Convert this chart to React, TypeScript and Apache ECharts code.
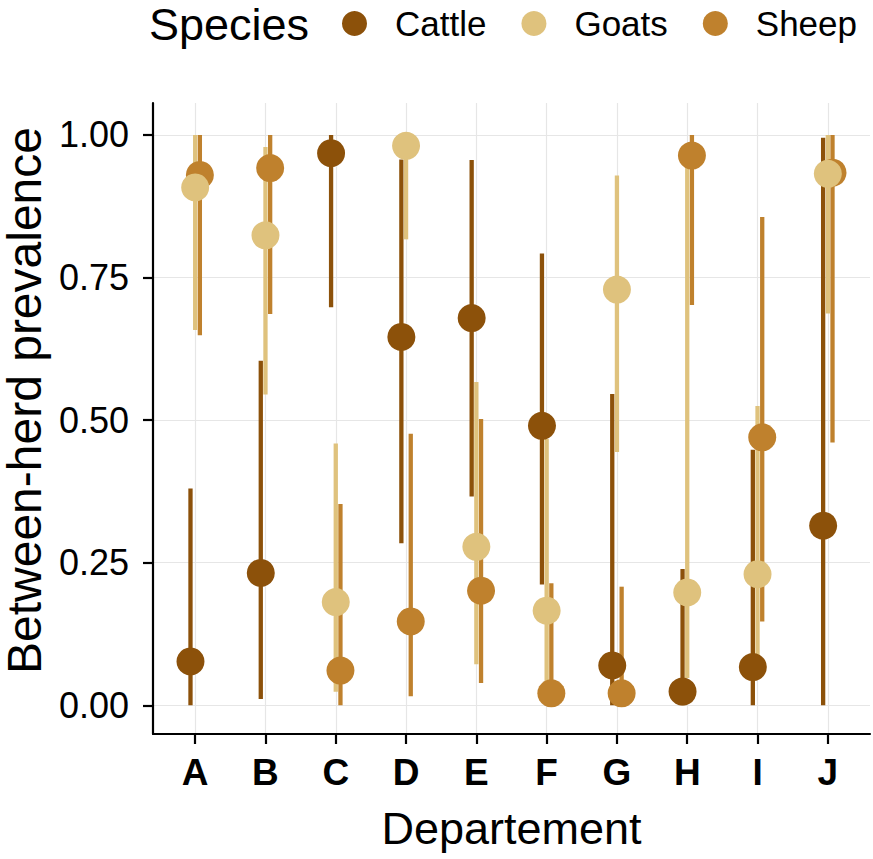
import React, { useEffect, useRef } from "react";
import * as echarts from "echarts";

const categories = ["A", "B", "C", "D", "E", "F", "G", "H", "I", "J"];
const speciesNames = ["Cattle", "Goats", "Sheep"];
const yTicks = [0, 0.25, 0.5, 0.75, 1];

const cattleEst = [0.077, 0.232, 0.968, 0.646, 0.679, 0.49, 0.07, 0.024, 0.067, 0.315];
const cattleLo = [0.0, 0.011, 0.698, 0.284, 0.366, 0.212, 0.0, 0.0, 0.0, 0.0];
const cattleHi = [0.38, 0.604, 1.0, 0.957, 0.956, 0.792, 0.546, 0.239, 0.448, 0.995];

const goatsEst = [0.908, 0.824, 0.181, 0.981, 0.278, 0.166, 0.729, 0.198, 0.23, 0.932];
const goatsLo = [0.658, 0.545, 0.024, 0.817, 0.072, 0.01, 0.444, 0.048, 0.088, 0.687];
const goatsHi = [1.0, 0.979, 0.459, 1.0, 0.567, 0.467, 0.929, 0.97, 0.525, 1.0];

const sheepEst = [0.93, 0.942, 0.061, 0.147, 0.201, 0.021, 0.021, 0.964, 0.47, 0.934];
const sheepLo = [0.649, 0.686, 0.0, 0.016, 0.039, 0.0, 0.0, 0.702, 0.147, 0.461];
const sheepHi = [1.0, 1.0, 0.353, 0.476, 0.502, 0.214, 0.208, 1.0, 0.856, 1.0];

const COLORS: Record<string, string> = {
  Cattle: "#8C510A",
  Goats: "#DFC27D",
  Sheep: "#BF812D",
};
const OFFSETS: Record<string, number> = { Cattle: -0.0667, Goats: 0, Sheep: 0.0667 };

const FONT = "Liberation Sans, Arial, sans-serif";

export default function App() {
  const ref = useRef<HTMLDivElement>(null);

  useEffect(() => {
    if (!ref.current) return;
    const chart = echarts.init(ref.current, null, { renderer: "svg" });

    const groups = [
      { name: "Cattle", est: cattleEst, lo: cattleLo, hi: cattleHi },
      { name: "Sheep", est: sheepEst, lo: sheepLo, hi: sheepHi },
      { name: "Goats", est: goatsEst, lo: goatsLo, hi: goatsHi },
    ];

    const lineSeries = groups.map((g) => ({
      type: "custom",
      name: g.name + " interval",
      data: categories.map((_, i) => [i + 1 + OFFSETS[g.name], g.lo[i], g.hi[i]]),
      encode: { x: 0, y: [1, 2] },
      renderItem: (params: any, api: any) => {
        const x = api.value(0);
        const p1 = api.coord([x, api.value(1)]);
        const p2 = api.coord([x, api.value(2)]);
        return {
          type: "line",
          shape: { x1: p1[0], y1: p1[1], x2: p2[0], y2: p2[1] },
          style: { stroke: COLORS[g.name], lineWidth: 4.3, lineCap: "butt" },
        };
      },
      z: 2,
    }));

    const pointSeries = groups.map((g) => ({
      type: "scatter",
      name: g.name,
      data: categories.map((_, i) => [i + 1 + OFFSETS[g.name], g.est[i]]),
      symbol: "circle",
      symbolSize: 28,
      itemStyle: { color: COLORS[g.name], opacity: 1 },
      z: 3,
    }));

    chart.setOption({
      animation: false,
      backgroundColor: "#ffffff",
      title: {
        text: "Species",
        left: 149,
        top: 2,
        padding: 0,
        textStyle: { fontFamily: FONT, fontSize: 45, fontWeight: "normal", color: "#000" },
      },
      legend: {
        data: speciesNames,
        left: 342,
        top: 6,
        padding: 0,
        icon: "circle",
        itemWidth: 25,
        itemHeight: 25,
        itemGap: 35,
        selectedMode: false,
        textStyle: {
          fontFamily: FONT,
          fontSize: 35,
          color: "#000",
          padding: [0, 0, 0, 23],
        },
      },
      grid: {
        left: 153,
        right: 3,
        top: 103,
        bottom: 125,
        containLabel: false,
        outerBoundsMode: "none",
      },
      xAxis: {
        type: "value",
        min: 0.4,
        max: 10.6,
        name: "Departement",
        nameLocation: "middle",
        nameGap: 72,
        nameTextStyle: { fontFamily: FONT, fontSize: 45, color: "#000" },
        axisLine: { show: true, onZero: false, lineStyle: { color: "#000", width: 2.2 } },
        axisTick: { show: true, length: 10, customValues: categories.map((_, i) => i + 1), lineStyle: { color: "#000", width: 2.2 } },
        axisLabel: {
          customValues: categories.map((_, i) => i + 1),
          formatter: (v: number) => categories[Math.round(v) - 1] ?? "",
          fontFamily: FONT,
          fontSize: 37,
          fontWeight: "bold",
          color: "#000",
          margin: 20,
        },
        splitLine: { show: true, lineStyle: { color: "#e6e6e6", width: 1.2 } },
      },
      yAxis: {
        type: "value",
        min: -0.0503,
        max: 1.0561,
        name: "Between-herd prevalence",
        nameLocation: "middle",
        nameRotate: 90,
        nameGap: 100,
        nameTextStyle: { fontFamily: FONT, fontSize: 48, lineHeight: 48, color: "#000", padding: [0, 0, 0, 36] },
        axisLine: { show: true, onZero: false, lineStyle: { color: "#000", width: 2.2 } },
        axisTick: { show: true, length: 10, customValues: yTicks, lineStyle: { color: "#000", width: 2.2 } },
        axisLabel: {
          customValues: yTicks,
          formatter: (v: number) => v.toFixed(2),
          fontFamily: FONT,
          fontSize: 36,
          color: "#000",
          margin: 24,
        },
        splitLine: { show: true, lineStyle: { color: "#e6e6e6", width: 1.2 } },
      },
      series: [...lineSeries, ...pointSeries],
    });

    return () => chart.dispose();
  }, []);

  return (
    <div
      ref={ref}
      style={{ position: "fixed", left: 0, top: 0, width: 873, height: 859, background: "#fff" }}
    />
  );
}
